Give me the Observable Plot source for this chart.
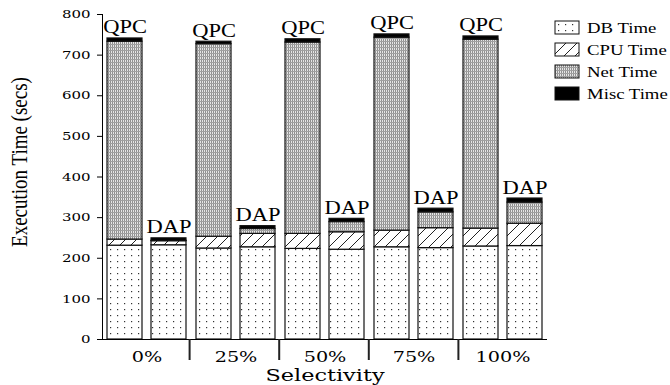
<!DOCTYPE html>
<html><head><meta charset="utf-8">
<script src="https://cdn.jsdelivr.net/npm/d3@7"></script>
<script src="https://cdn.jsdelivr.net/npm/@observablehq/plot@0.6"></script>
<style>
body{margin:0;background:#fff;}
#wrap{position:relative;width:670px;height:385px;overflow:hidden;}
#legend{position:absolute;left:0;top:0;}
</style></head><body><div id="wrap"></div>
<script>
// ---- data ----
const groups = ["0%", "25%", "50%", "75%", "100%"];
const algorithms = ["QPC", "DAP"];
const components = ["DB Time", "CPU Time", "Net Time", "Misc Time"];
// order of bars: 0% QPC, 0% DAP, 25% QPC, 25% DAP, ...
const dbTime   = [231, 232, 224, 227, 223, 221, 227, 225, 229, 230];
const cpuTime  = [15, 10, 29, 33, 37, 43, 41, 49, 44, 55];
const netTime  = [487, 1, 474, 12, 471, 25, 475, 39, 465, 52];
const miscTime = [8, 6, 6, 7, 8, 8, 8, 9, 8, 10];
const yTicks = [0, 100, 200, 300, 400, 500, 600, 700, 800];

const series = [dbTime, cpuTime, netTime, miscTime];
const rows = [], totals = [];
groups.forEach((g, gi) => algorithms.forEach((a, ai) => {
  const i = gi * 2 + ai; let sum = 0;
  components.forEach((c, ci) => { rows.push({group: g, alg: a, comp: c, value: series[ci][i]}); sum += series[ci][i]; });
  totals.push({group: g, alg: a, total: sum});
}));
const fills = ["url(#pat-db)", "url(#pat-cpu)", "url(#pat-net)", "#000"];

// ---- patterns ----
const defsSvg = d3.select("body").append("svg").attr("width", 0).attr("height", 0).style("position", "absolute");
const defs = defsSvg.append("defs");
const pDb = defs.append("pattern").attr("id", "pat-db").attr("patternUnits", "userSpaceOnUse").attr("width", 7).attr("height", 6);
pDb.append("rect").attr("width", 7).attr("height", 6).attr("fill", "#fff");
pDb.append("rect").attr("x", 3).attr("y", 3).attr("width", 1.2).attr("height", 1.2).attr("fill", "#333");
const pCpu = defs.append("pattern").attr("id", "pat-cpu").attr("patternUnits", "userSpaceOnUse").attr("width", 11).attr("height", 11);
pCpu.append("rect").attr("width", 11).attr("height", 11).attr("fill", "#fff");
pCpu.append("path").attr("d", "M0,11L11,0M-2,2L2,-2M9,13L13,9").attr("stroke", "#222").attr("stroke-width", 1);
const pNet = defs.append("pattern").attr("id", "pat-net").attr("patternUnits", "userSpaceOnUse").attr("width", 2).attr("height", 3);
pNet.append("rect").attr("width", 2).attr("height", 3).attr("fill", "#e6e6e6");
pNet.append("rect").attr("x", 0).attr("width", 1).attr("height", 3).attr("fill", "#909090");
pNet.append("rect").attr("y", 2).attr("width", 2).attr("height", 1).attr("fill", "#a0a0a0");

// ---- chart ----
const chart = Plot.plot({
  width: 670, height: 385,
  marginTop: 14, marginBottom: 46, marginLeft: 100, marginRight: 122,
  style: {fontFamily: "'Liberation Serif', serif", background: "white", color: "#000"},
  fx: {domain: groups, padding: 0, axis: "bottom", label: "Selectivity", labelAnchor: "center", labelArrow: "none", tickSize: 0, tickPadding: 12, labelOffset: 41},
  x: {domain: algorithms, paddingInner: 0.2, paddingOuter: 0.1, axis: null},
  y: {domain: [0, 800], ticks: yTicks, tickSize: 5, tickPadding: 7, line: true, label: "Execution Time (secs)", labelAnchor: "center", labelArrow: "none", labelOffset: 92},
  color: {domain: components, range: fills},
  marks: [
    Plot.barY(rows, {fx: "group", x: "alg", y: "value", fill: "comp", stroke: "#111", strokeWidth: 1.2}),
    Plot.text(totals, {fx: "group", x: "alg", y: "total", text: "alg", dy: -5, lineAnchor: "bottom", fontSize: 18}),
    Plot.ruleY([0], {stroke: "#000", strokeWidth: 1.2})
  ]
});
const wrap = document.getElementById("wrap");
wrap.appendChild(chart);
const svg = d3.select(chart);

function stretch(sel, f) {
  sel.each(function () {
    const L = this.getComputedTextLength();
    if (L > 0) { this.setAttribute("textLength", L * f); this.setAttribute("lengthAdjust", "spacingAndGlyphs"); }
  });
}
const yTickText = svg.selectAll('g[aria-label="y-axis tick label"] text').attr("font-family", "'DejaVu Serif', serif").attr("font-size", 11.5);
stretch(yTickText, 1.3);
const fxTickText = svg.selectAll('g[aria-label="fx-axis tick label"] text').attr("font-family", "'DejaVu Serif', serif").attr("font-size", 15);
stretch(fxTickText, 1.28);
const fxLabel = svg.selectAll('g[aria-label="fx-axis label"] text').attr("font-family", "'DejaVu Serif', serif").attr("font-size", 16);
fxLabel.each(function () { this.textContent = "Selectivity"; this.setAttribute("textLength", 119); this.setAttribute("lengthAdjust", "spacingAndGlyphs"); });
const yLabel = svg.selectAll('g[aria-label="y-axis label"] text').attr("font-size", 19);
yLabel.each(function () {
  this.textContent = "Execution Time (secs)";
  const t = this.getAttribute("transform") || "";
  this.setAttribute("transform", t + " translate(15,0) scale(1,1.2)");
});
stretch(svg.selectAll('g[aria-label="text"] text'), 1.25);

// separators below the axis at facet boundaries
const fxDesc = chart.scale("fx");
const fxScale = d3.scaleBand().domain(fxDesc.domain).range(fxDesc.range).paddingInner(fxDesc.paddingInner || 0).paddingOuter(fxDesc.paddingOuter || 0).align(fxDesc.align ?? 0.5);
const yDesc = chart.scale("y");
const y0 = d3.scaleLinear().domain(yDesc.domain).range(yDesc.range)(0);
svg.append("g").selectAll("line").data(groups.slice(0, -1)).join("line")
  .attr("x1", d => fxScale(d) + fxScale.bandwidth()).attr("x2", d => fxScale(d) + fxScale.bandwidth())
  .attr("y1", y0).attr("y2", y0 + 21).attr("stroke", "#222").attr("stroke-width", 2);

// ---- legend ----
const leg = d3.select(wrap).append("svg").attr("id", "legend").attr("width", 670).attr("height", 385);
const item = leg.selectAll("g").data(components).join("g").attr("transform", (d, i) => `translate(555,${21 + 22 * i})`);
item.append("rect").attr("width", 24).attr("height", 13).attr("fill", (d, i) => fills[i]).attr("stroke", "#111").attr("stroke-width", 1);
const legText = item.append("text").attr("x", 32).attr("y", 12).text(d => d)
  .attr("font-family", "'Liberation Serif', serif").attr("font-size", 15).attr("fill", "#000");
stretch(legText, 1.25);
</script></body></html>
